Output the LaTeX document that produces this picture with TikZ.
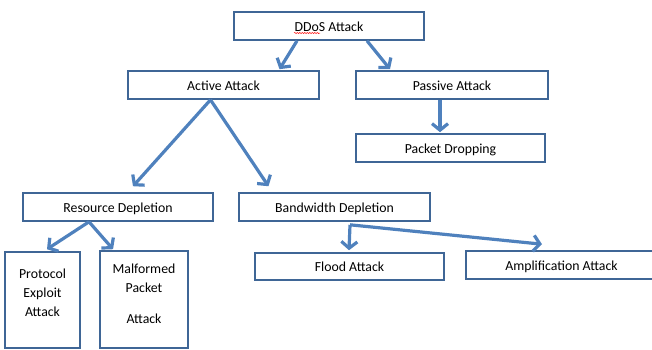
\documentclass[tikz,border=0pt]{standalone}
\usepackage{fontspec}
\setmainfont{Carlito}
\usepackage{tikz}
\usetikzlibrary{arrows.meta,positioning,decorations.pathmorphing}
\definecolor{LinkBlue}{HTML}{4F81BD}
\definecolor{FrameBlue}{HTML}{3F6696}

\begin{document}
\begin{tikzpicture}[
  x=1pt,y=-1pt,
  box/.style={
    draw=FrameBlue,line width=1.6pt,fill=white,
    minimum height=28pt,inner sep=0pt,
    text height=12pt,text depth=2pt,
    font=\fontsize{13.8}{17}\selectfont
  },
  lbl/.style={align=center,inner sep=0pt,font=\fontsize{13.8}{19}\selectfont},
  link/.style={draw=LinkBlue,line width=3.2pt,
    -{Straight Barb[length=6.5pt,width=16pt]}}
]
  \useasboundingbox (0,0) rectangle (652,349);

  \node[box,minimum width=190pt] (ddos) at (329,26) {DDoS Attack};
  \node[box,minimum width=191pt] (active) at (223.5,85) {Active Attack};
  \node[box,minimum width=192pt] (passive) at (452,85) {Passive Attack};
  \node[box,minimum width=189pt] (drop) at (450.5,148) {Packet Dropping};
  \node[box,minimum width=190pt] (resource) at (118,207) {Resource Depletion};
  \node[box,minimum width=191pt] (bandwidth) at (334.5,207) {Bandwidth Depletion};
  \node[box,minimum width=189pt,minimum height=27pt] (flood) at (349.5,266.5) {Flood Attack};
  \node[box,minimum width=191pt] (ampli) at (561.5,265) {Amplification Attack};
  \node[box,minimum width=75pt,minimum height=96pt] (protocol) at (42.5,300) {};
  \node[box,minimum width=88pt,minimum height=97pt] (malformed) at (144,299.5) {};
  \node[lbl] (protocoltxt) at ([yshift=7pt]protocol.center) {Protocol\\Exploit\\Attack};
  \node[lbl] (malformedtxt) at ([yshift=6pt]malformed.center) {Malformed\\Packet\\[12pt]Attack};

  \draw[red,line width=0.5pt,decorate,decoration={snake,amplitude=0.6pt,segment length=2.5pt}]
    ([xshift=-35pt,yshift=-7pt]ddos.center) -- ++(26,0);

  \draw[link] ([xshift=-32pt]ddos.south) -- ([xshift=56pt,yshift=1pt]active.north);
  \draw[link] ([xshift=38pt]ddos.south) -- ([xshift=-62pt,yshift=1pt]passive.north);
  \draw[link] ([xshift=-12pt]passive.south) -- ([xshift=-10.5pt,yshift=1pt]drop.north);
  \draw[link] ([xshift=-13pt]active.south) -- ([xshift=15pt,yshift=6pt]resource.north);
  \draw[link] ([xshift=-13pt]active.south) -- ([xshift=-66pt,yshift=6pt]bandwidth.north);
  \draw[link] ([xshift=-29pt]resource.south) -- ([xshift=4.5pt,yshift=2pt]protocol.north);
  \draw[link] ([xshift=-29pt]resource.south) -- ([xshift=-31pt,yshift=1pt]malformed.north);
  \coordinate (split) at ([xshift=15.5pt,yshift=-3pt]bandwidth.south);
  \draw[link] (split) -- ([xshift=-0.5pt,yshift=2pt]flood.north);
  \draw[link] (split) -- ([xshift=-19.5pt,yshift=6pt]ampli.north);
\end{tikzpicture}
\end{document}
